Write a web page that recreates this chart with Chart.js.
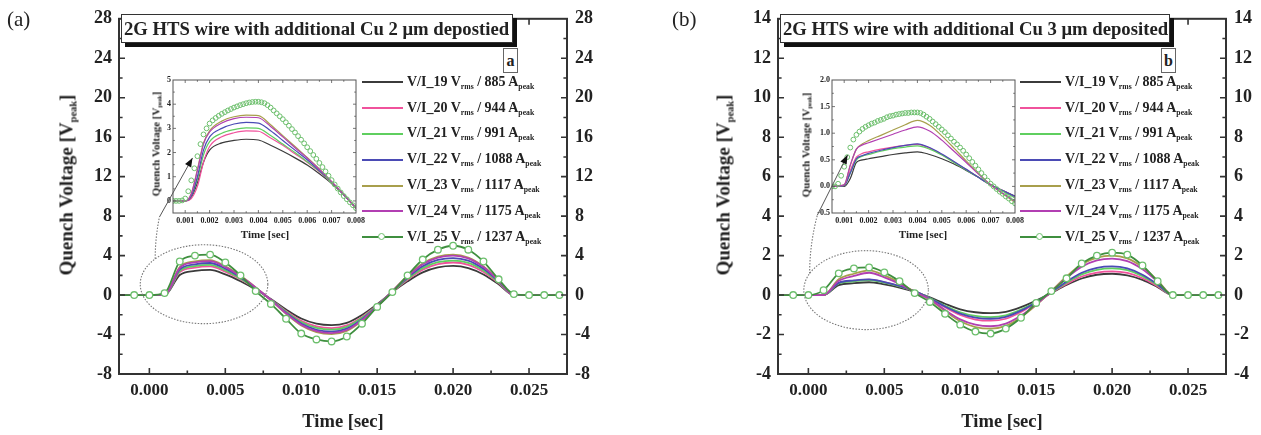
<!DOCTYPE html>
<html>
<head>
<meta charset="utf-8">
<script src="https://cdn.jsdelivr.net/npm/chart.js@4.4.0/dist/chart.umd.min.js"></script>
<style>
body{margin:0;width:1261px;height:435px;position:relative;background:#fff;overflow:hidden;font-family:"Liberation Serif",serif;color:#222}
canvas{position:absolute}
.txt{position:absolute;white-space:nowrap;font-weight:bold;line-height:1;transform:translate(-50%,-50%)}
.vert{transform:translate(-50%,-50%) rotate(-90deg)}
sub{font-size:0.55em;vertical-align:-0.35em;line-height:0}
.caja{position:absolute;box-sizing:border-box;height:29px;border:1px solid #333;background:#fff;box-shadow:4px 4px 0 #111;font:bold 18.7px "Liberation Serif";line-height:27px;padding-left:2px;white-space:nowrap}
.letra{position:absolute;box-sizing:border-box;width:15px;height:25px;border:1px solid #666;background:#fff;font:bold 16px "Liberation Serif";line-height:23px;text-align:center}
.fila{position:absolute;font:bold 14px "Liberation Serif";line-height:20px;white-space:nowrap;transform:translateY(-50%)}
.muestra{display:inline-block;position:relative;width:41px;height:0;border-top:2px solid;vertical-align:middle;margin-right:4px}
.bolita{position:absolute;left:16px;top:-5.5px;width:5px;height:5px;border:1.3px solid #6dbf6d;border-radius:50%;background:#fff}
.panel{position:absolute;font-size:21px;line-height:1}
</style>
</head>
<body>
<canvas id="insetA" width="235" height="175" style="left:140px;top:72px"></canvas>
<canvas id="mainA" width="630" height="435" style="left:0;top:0"></canvas>
<canvas id="insetB" width="235" height="175" style="left:799px;top:72px"></canvas>
<canvas id="mainB" width="631" height="435" style="left:630px;top:0"></canvas>

<div class="panel" style="left:7px;top:9px">(a)</div>
<div class="panel" style="left:672px;top:9px">(b)</div>

<div class="txt vert" style="left:66px;top:185px;font-size:19px">Quench Voltage [V<sub>peak</sub>]</div>
<div class="txt vert" style="left:723px;top:185px;font-size:19px">Quench Voltage [V<sub>peak</sub>]</div>
<div class="txt" style="left:343px;top:421px;font-size:18.5px">Time [sec]</div>
<div class="txt" style="left:1002px;top:421px;font-size:18.5px">Time [sec]</div>

<div class="txt vert" style="left:156px;top:144px;font-size:11px">Quench Voltage [V<sub>peak</sub>]</div>
<div class="txt vert" style="left:806px;top:145px;font-size:11px">Quench Voltage [V<sub>peak</sub>]</div>
<div class="txt" style="left:265px;top:234px;font-size:11px">Time [sec]</div>
<div class="txt" style="left:923px;top:234px;font-size:11px">Time [sec]</div>

<div class="caja" id="tituloA" style="left:121px;top:14px;width:392px"></div>
<div class="letra" style="left:503px;top:48px">a</div>
<div class="caja" id="tituloB" style="left:780px;top:14px;width:390px"></div>
<div class="letra" style="left:1161px;top:48px">b</div>

<div id="leyendaA"></div>
<div id="leyendaB"></div>

<script>
// ---- datos ----
const series = ['V/I_19', 'V/I_20', 'V/I_21', 'V/I_22', 'V/I_23', 'V/I_24', 'V/I_25'];
const corrientes = [885, 944, 991, 1088, 1117, 1175, 1237];
const colores = ['#3b3b3b', '#f0529c', '#5fcf5f', '#4b4bb5', '#a89f4c', '#b23fb2', '#3f8f3f'];
const tituloA = '2G HTS wire with additional Cu 2 \u03bcm depostied';
const tituloB = '2G HTS wire with additional Cu 3 \u03bcm deposited';

// tiempo [s] de las curvas principales
const tiempo = [-0.002, -0.001, 0.000, 0.001, 0.002, 0.003, 0.004, 0.005, 0.006, 0.007,
  0.008, 0.009, 0.010, 0.011, 0.012, 0.013, 0.014, 0.015, 0.016, 0.017,
  0.018, 0.019, 0.020, 0.021, 0.022, 0.023, 0.024, 0.025, 0.026, 0.027];

// panel (a), Cu 2 um
const a19 = [0,0,0,0,2.04,2.45,2.55,2.09,1.40,0.56,-0.40,-1.46,-2.38,-2.90,-3.05,-2.81,-2.01,-0.92,0.30,1.39,2.30,2.80,2.95,2.74,2.09,1.09,0,0,0,0];
const a20 = [0,0,0,0,2.32,2.78,2.90,2.38,1.60,0.64,-0.44,-1.61,-2.61,-3.18,-3.35,-3.08,-2.21,-1.01,0.33,1.55,2.57,3.14,3.30,3.07,2.34,1.22,0,0,0,0];
const a21 = [0,0,0,0,2.44,2.93,3.05,2.50,1.68,0.67,-0.46,-1.68,-2.73,-3.33,-3.50,-3.22,-2.31,-1.05,0.35,1.65,2.73,3.33,3.50,3.26,2.49,1.30,0,0,0,0];
const a22 = [0,0,0,0,2.60,3.12,3.25,2.67,1.79,0.72,-0.48,-1.78,-2.89,-3.52,-3.70,-3.40,-2.44,-1.11,0.38,1.76,2.93,3.56,3.75,3.49,2.66,1.39,0,0,0,0];
const a23 = [0,0,0,0,2.84,3.41,3.55,2.91,1.95,0.78,-0.51,-1.90,-3.08,-3.75,-3.95,-3.63,-2.61,-1.19,0.41,1.93,3.20,3.90,4.10,3.81,2.91,1.52,0,0,0,0];
const a24 = [0,0,0,0,2.76,3.31,3.45,2.83,1.90,0.76,-0.50,-1.85,-3.00,-3.66,-3.85,-3.54,-2.54,-1.16,0.40,1.88,3.12,3.80,4.00,3.72,2.84,1.48,0,0,0,0];
const a25 = [0,0,0,0.20,3.40,4.00,4.10,3.30,2.00,0.40,-0.90,-2.40,-3.90,-4.50,-4.70,-4.20,-2.90,-1.20,0.30,2.00,3.60,4.60,5.00,4.60,3.40,1.60,0.10,0,0,0];

// panel (b), Cu 3 um
const b19 = [0,0,0,0,0.50,0.60,0.65,0.54,0.38,0.16,-0.12,-0.44,-0.72,-0.87,-0.92,-0.85,-0.61,-0.28,0.11,0.51,0.84,1.03,1.08,1.00,0.77,0.40,0,0,0,0];
const b20 = [0,0,0,0,0.60,0.72,0.78,0.65,0.45,0.20,-0.17,-0.62,-1.01,-1.24,-1.30,-1.20,-0.86,-0.39,0.12,0.56,0.94,1.14,1.20,1.12,0.85,0.44,0,0,0,0];
const b21 = [0,0,0,0,0.59,0.70,0.76,0.63,0.44,0.19,-0.15,-0.54,-0.87,-1.06,-1.12,-1.03,-0.74,-0.34,0.14,0.63,1.05,1.28,1.35,1.26,0.96,0.50,0,0,0,0];
const b22 = [0,0,0,0,0.62,0.74,0.80,0.66,0.46,0.20,-0.16,-0.58,-0.94,-1.14,-1.20,-1.10,-0.79,-0.36,0.15,0.68,1.13,1.38,1.45,1.35,1.03,0.54,0,0,0,0];
const b23 = [0,0,0,0,0.80,1.08,1.25,1.00,0.63,0.15,-0.22,-0.82,-1.33,-1.62,-1.70,-1.56,-1.12,-0.51,0.20,0.94,1.56,1.90,2.00,1.86,1.42,0.74,0,0,0,0];
const b24 = [0,0,0,0,0.72,0.97,1.13,0.90,0.57,0.14,-0.21,-0.76,-1.23,-1.50,-1.58,-1.45,-1.04,-0.47,0.19,0.87,1.44,1.76,1.85,1.72,1.31,0.68,0,0,0,0];
const b25 = [0,0,0,0.25,1.10,1.35,1.40,1.15,0.70,0.10,-0.35,-0.95,-1.50,-1.85,-1.95,-1.70,-1.15,-0.40,0.20,0.85,1.60,2.00,2.15,2.05,1.50,0.70,0,0,0,0];

// ampliaciones (insets)
const tiempoInset = [0.0005, 0.001, 0.00125, 0.0015, 0.00175, 0.002, 0.0025, 0.003, 0.0035, 0.004,
  0.0045, 0.005, 0.0055, 0.006, 0.0065, 0.007, 0.0075, 0.008];
const tiempoCirculos = [0.0005,0.000625,0.00075,0.000875,0.001,0.001125,0.00125,0.001375,0.0015,0.001625,
  0.00175,0.001875,0.002,0.002125,0.00225,0.002375,0.0025,0.002625,0.00275,0.002875,
  0.003,0.003125,0.00325,0.003375,0.0035,0.003625,0.00375,0.003875,0.004,0.004125,
  0.00425,0.004375,0.0045,0.004625,0.00475,0.004875,0.005,0.005125,0.00525,0.005375,
  0.0055,0.005625,0.00575,0.005875,0.006,0.006125,0.00625,0.006375,0.0065,0.006625,
  0.00675,0.006875,0.007,0.007125,0.00725,0.007375,0.0075,0.007625,0.00775,0.007875,0.008];

const ia19 = [0,0,0.15,0.75,1.60,2.10,2.40,2.50,2.55,2.52,2.30,2.05,1.78,1.48,1.12,0.72,0.25,-0.30];
const ia20 = [0,0,0.10,0.60,1.60,2.25,2.65,2.82,2.90,2.88,2.60,2.30,1.95,1.60,1.20,0.75,0.25,-0.30];
const ia21 = [0,0,0.20,0.90,1.90,2.45,2.80,2.95,3.02,3.00,2.70,2.35,2.00,1.62,1.22,0.75,0.25,-0.30];
const ia22 = [0,0,0.20,1.00,2.10,2.65,3.00,3.18,3.25,3.22,2.90,2.50,2.10,1.70,1.25,0.78,0.25,-0.30];
const ia23 = [0,0,0.30,1.30,2.40,2.90,3.30,3.48,3.55,3.53,3.15,2.70,2.25,1.80,1.32,0.80,0.27,-0.30];
const ia24 = [0,0,0.30,1.25,2.35,2.85,3.22,3.40,3.46,3.44,3.08,2.65,2.20,1.77,1.30,0.80,0.27,-0.30];
const ia25 = [0,0,0,0.02,0.10,0.40,0.85,1.35,1.85,2.35,2.75,3.00,3.20,3.33,3.43,3.52,3.60,3.67,3.74,3.80,
  3.86,3.91,3.96,4.00,4.04,4.07,4.09,4.10,4.10,4.08,4.04,3.96,3.86,3.74,3.62,3.50,3.38,3.25,3.11,2.97,
  2.83,2.68,2.53,2.38,2.22,2.06,1.90,1.74,1.57,1.40,1.22,1.04,0.86,0.68,0.51,0.35,0.20,0.07,-0.06,-0.18,-0.30];

const ib19 = [0,0,0.15,0.45,0.50,0.52,0.56,0.60,0.63,0.65,0.60,0.52,0.42,0.30,0.17,0.03,-0.08,-0.18];
const ib20 = [0,0.02,0.30,0.55,0.62,0.65,0.70,0.74,0.77,0.79,0.72,0.60,0.46,0.32,0.17,0.03,-0.08,-0.20];
const ib21 = [0,0.02,0.25,0.50,0.57,0.60,0.66,0.71,0.74,0.76,0.70,0.59,0.45,0.31,0.17,0.03,-0.09,-0.22];
const ib22 = [0,0.02,0.25,0.52,0.58,0.62,0.68,0.73,0.77,0.80,0.73,0.61,0.47,0.32,0.17,0.03,-0.08,-0.19];
const ib23 = [0,0.03,0.40,0.70,0.80,0.86,0.96,1.06,1.16,1.24,1.15,0.95,0.72,0.48,0.25,0.03,-0.14,-0.30];
const ib24 = [0,0.03,0.40,0.70,0.78,0.82,0.90,0.98,1.06,1.12,1.04,0.87,0.66,0.45,0.23,0.03,-0.13,-0.28];
const ib25 = [0,0,0.05,0.20,0.37,0.55,0.73,0.88,0.97,1.03,1.08,1.12,1.15,1.18,1.20,1.23,1.25,1.27,1.30,1.32,
  1.33,1.35,1.36,1.37,1.38,1.38,1.39,1.39,1.39,1.38,1.35,1.31,1.27,1.22,1.17,1.12,1.07,1.02,0.96,0.90,
  0.84,0.79,0.73,0.67,0.60,0.53,0.46,0.39,0.32,0.25,0.18,0.11,0.05,0.00,-0.05,-0.10,-0.14,-0.19,-0.23,-0.28,-0.32];

// ejes: [min, max, paso]
const ejeYa = [-8, 28, 4];
const ejeYb = [-4, 14, 2];
const ejeInsetA = [-0.5, 5, 1];
const ejeInsetB = [-0.5, 2, 0.5];

Chart.defaults.font.family = 'Liberation Serif';
Chart.defaults.font.weight = 'bold';
Chart.defaults.color = '#222';

// marcas menores/mayores hacia dentro, en los cuatro lados
function marcas(scale) {
  const v = scale.ticks.map(t => t.value);
  const paso = v[1] - v[0];
  const out = [];
  for (let k = -2; k <= 2 * v.length + 2; k++) {
    const val = v[0] + k * paso / 2;
    if (val > scale.min + 1e-9 && val < scale.max - 1e-9) out.push({v: val, mayor: k % 2 === 0});
  }
  return out;
}

const marco = {
  id: 'marco',
  afterDraw(chart, args, o) {
    const ctx = chart.ctx, a = chart.chartArea;
    const xs = chart.scales.x, ys = chart.scales.y;
    ctx.save();
    ctx.strokeStyle = o.color;
    ctx.lineWidth = o.ancho;
    ctx.strokeRect(a.left, a.top, a.right - a.left, a.bottom - a.top);
    ctx.beginPath();
    marcas(xs).forEach(m => {
      const p = xs.getPixelForValue(m.v), L = m.mayor ? o.largo : o.largo * 0.6;
      ctx.moveTo(p, a.bottom); ctx.lineTo(p, a.bottom - L);
      ctx.moveTo(p, a.top); ctx.lineTo(p, a.top + L);
    });
    marcas(ys).forEach(m => {
      const p = ys.getPixelForValue(m.v), L = m.mayor ? o.largo : o.largo * 0.6;
      ctx.moveTo(a.left, p); ctx.lineTo(a.left + L, p);
      ctx.moveTo(a.right, p); ctx.lineTo(a.right - L, p);
    });
    ctx.lineWidth = o.ancho * 0.8;
    ctx.stroke();
    ctx.restore();
  }
};

// elipse punteada + flecha hacia el inset (en unidades de datos)
const lupa = {
  id: 'lupa',
  afterDraw(chart, args, o) {
    const ctx = chart.ctx, xs = chart.scales.x, ys = chart.scales.y;
    const cx = xs.getPixelForValue(o.centro[0]), cy = ys.getPixelForValue(o.centro[1]);
    const rx = Math.abs(xs.getPixelForValue(o.centro[0] + o.radio[0]) - cx);
    const ry = Math.abs(ys.getPixelForValue(o.centro[1] + o.radio[1]) - cy);
    ctx.save();
    ctx.strokeStyle = '#777';
    ctx.lineWidth = 1.1;
    ctx.setLineDash([1.5, 1.5]);
    ctx.beginPath();
    ctx.ellipse(cx, cy, rx, ry, 0, 0, 2 * Math.PI);
    ctx.stroke();
    const ang = o.angulo * Math.PI / 180;
    const sx = cx + rx * Math.cos(ang), sy = cy + ry * Math.sin(ang);
    const p1x = xs.getPixelForValue(o.codo[0]), p1y = ys.getPixelForValue(o.codo[1]);
    const p2x = xs.getPixelForValue(o.punta[0]), p2y = ys.getPixelForValue(o.punta[1]);
    ctx.beginPath();
    ctx.moveTo(sx, sy);
    ctx.quadraticCurveTo(sx, (sy + p1y) / 2, p1x, p1y);
    ctx.stroke();
    ctx.setLineDash([]);
    ctx.strokeStyle = '#555';
    ctx.lineWidth = 1;
    ctx.beginPath();
    ctx.moveTo(p1x, p1y);
    ctx.lineTo(p2x, p2y);
    ctx.stroke();
    const t = Math.atan2(p2y - p1y, p2x - p1x);
    ctx.fillStyle = '#111';
    ctx.beginPath();
    ctx.moveTo(p2x, p2y);
    ctx.lineTo(p2x - 9 * Math.cos(t) + 3.5 * Math.sin(t), p2y - 9 * Math.sin(t) - 3.5 * Math.cos(t));
    ctx.lineTo(p2x - 9 * Math.cos(t) - 3.5 * Math.sin(t), p2y - 9 * Math.sin(t) + 3.5 * Math.cos(t));
    ctx.closePath();
    ctx.fill();
    ctx.restore();
  }
};

function armarDatasets(tiempos, listas, tiemposCirc, circ, principal) {
  const ds = [];
  for (let i = 0; i < listas.length; i++) {
    ds.push({
      label: series[i],
      data: tiempos.map((t, k) => ({x: t, y: listas[i][k]})),
      borderColor: colores[i],
      borderWidth: principal ? 1.8 : 1.2,
      pointRadius: 0,
      cubicInterpolationMode: 'monotone',
      order: 6 - i
    });
  }
  if (principal) {
    ds.push({
      label: series[6],
      data: tiempos.map((t, k) => ({x: t, y: circ[k]})),
      borderColor: colores[6],
      borderWidth: 1.8,
      cubicInterpolationMode: 'monotone',
      pointRadius: c => c.dataIndex === 0 ? 0 : 3.3,
      pointBackgroundColor: '#fff',
      pointBorderColor: '#6dbf6d',
      pointBorderWidth: 1.3,
      order: 0
    });
  } else {
    ds.push({
      label: series[6],
      data: tiemposCirc.map((t, k) => ({x: t, y: circ[k]})),
      showLine: false,
      pointRadius: 2.4,
      pointBorderWidth: 1,
      pointBorderColor: '#6dbf6d',
      pointBackgroundColor: 'rgba(255,255,255,0)',
      order: 0
    });
  }
  return ds;
}

const sinRejilla = {display: false, drawTicks: false, tickLength: 0};

function ejeY(eje, pos, ancho, pad, tam, dec) {
  return {
    position: pos, min: eje[0], max: eje[1],
    grid: sinRejilla, border: {display: false},
    ticks: {stepSize: eje[2], includeBounds: false, padding: pad, font: {size: tam},
      callback: v => dec === 0 ? String(Math.round(v)) : v.toFixed(dec)},
    afterFit: s => { s.width = ancho; }
  };
}

function graficaPrincipal(id, listas, circ, eje, anchoIzq, anchoDer, cfgLupa) {
  new Chart(document.getElementById(id), {
    type: 'line',
    data: {datasets: armarDatasets(tiempo, listas, null, circ, true)},
    options: {
      responsive: false, animation: false, devicePixelRatio: 1, events: [],
      layout: {padding: {top: 14}},
      plugins: {legend: {display: false}, tooltip: {enabled: false},
        marco: {color: '#333', ancho: 2, largo: 6}, lupa: cfgLupa},
      scales: {
        x: {type: 'linear', min: -0.002, max: 0.0275,
          grid: sinRejilla, border: {display: false},
          ticks: {stepSize: 0.005, includeBounds: false, padding: 6, font: {size: 17},
            maxRotation: 0, autoSkip: false, callback: v => v.toFixed(3)},
          afterFit: s => { s.height = 61; }},
        y: ejeY(eje, 'left', anchoIzq, 7, 18, 0),
        y2: ejeY(eje, 'right', anchoDer, 8, 18, 0)
      }
    },
    plugins: [marco, lupa]
  });
}

function graficaInset(id, listas, circ, eje, dec) {
  new Chart(document.getElementById(id), {
    type: 'line',
    data: {datasets: armarDatasets(tiempoInset, listas, tiempoCirculos, circ, false)},
    options: {
      responsive: false, animation: false, devicePixelRatio: 1, events: [],
      layout: {padding: {top: 8, right: 19}},
      plugins: {legend: {display: false}, tooltip: {enabled: false},
        marco: {color: '#555', ancho: 1, largo: 3}},
      scales: {
        x: {type: 'linear', min: 0.0005, max: 0.008,
          grid: sinRejilla, border: {display: false},
          ticks: {stepSize: 0.001, includeBounds: false, padding: 3, font: {size: 8},
            maxRotation: 0, autoSkip: false, callback: v => v.toFixed(3)},
          afterFit: s => { s.height = 34; }},
        y: ejeY(eje, 'left', 33, 2, 8, dec)
      }
    },
    plugins: [marco]
  });
}

function crearLeyenda(idContenedor, xLinea) {
  let html = '';
  for (let i = 0; i < series.length; i++) {
    const y = 81.7 + i * 25.8;
    const bolita = i === 6 ? '<span class="bolita"></span>' : '';
    html += '<div class="fila" style="left:' + xLinea + 'px;top:' + y + 'px">' +
      '<span class="muestra" style="border-top-color:' + colores[i] + '">' + bolita + '</span>' +
      series[i] + ' V<sub>rms</sub> / ' + corrientes[i] + ' A<sub>peak</sub></div>';
  }
  document.getElementById(idContenedor).innerHTML = html;
}

document.getElementById('tituloA').textContent = tituloA;
document.getElementById('tituloB').textContent = tituloB;
crearLeyenda('leyendaA', 362);
crearLeyenda('leyendaB', 1020);

graficaInset('insetA', [ia19, ia20, ia21, ia22, ia23, ia24], ia25, ejeInsetA, 0);
graficaInset('insetB', [ib19, ib20, ib21, ib22, ib23, ib24], ib25, ejeInsetB, 1);

graficaPrincipal('mainA', [a19, a20, a21, a22, a23, a24], a25, ejeYa, 119, 63,
  {centro: [0.0036, 1.1], radio: [0.0042, 4.0], angulo: 220, codo: [0.00066, 7.9], punta: [0.00284, 13.9]});
graficaPrincipal('mainB', [b19, b20, b21, b22, b23, b24], b25, ejeYb, 148, 35,
  {centro: [0.0038, 0.25], radio: [0.0041, 2.0], angulo: 205, codo: [0.00059, 4.05], punta: [0.00258, 7.1]});
</script>
</body>
</html>
